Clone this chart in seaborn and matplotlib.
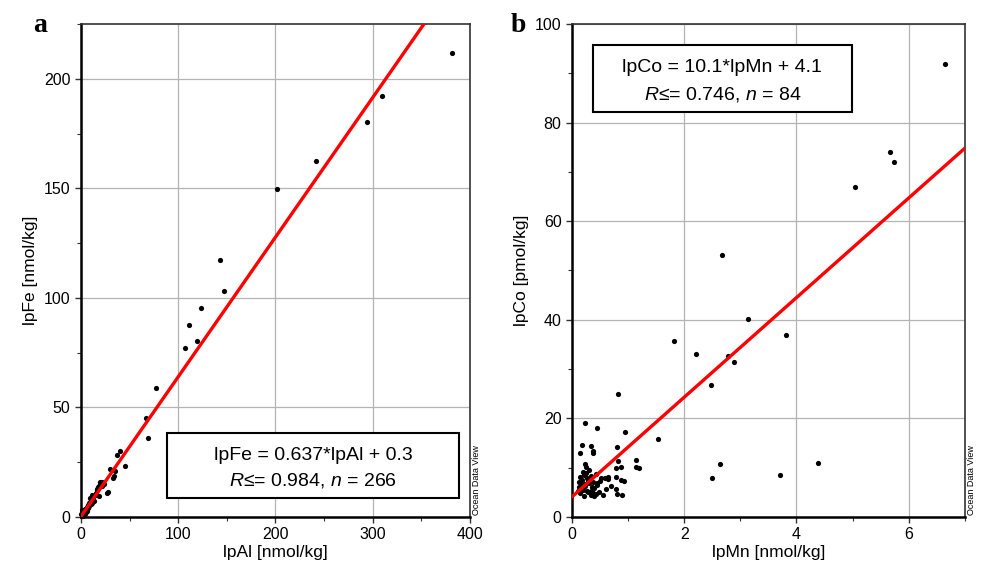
import numpy as np
import pandas as pd
import seaborn as sns
import matplotlib.pyplot as plt
from matplotlib.ticker import MultipleLocator
from matplotlib.patches import Rectangle

# panel a: lpAl vs lpFe
al = [381.5, 309.5, 294, 241.6, 201.5, 143, 147, 111, 123.4, 119.3, 107, 77, 67, 69,
      40, 37.3, 45.2, 29.8, 35, 33.2, 33.6, 26.4, 28, 21.3, 17.8, 19.5, 20, 14.4, 16.1,
      12.7, 11, 7.5, 5, 3.5, 1, 2, 2.5, 1.5, 0.5, 3, 4, 6, 8, 9, 10, 12, 13, 15, 18, 22,
      24, 0.8, 1.2, 2.2, 4.5, 5.5, 7, 9.5, 11.5, 16, 19, 0.3, 1.8, 3.2, 6.5, 8.5, 10.5]
fe = [211.9, 192.2, 180.4, 162.6, 149.8, 117.4, 103.2, 87.7, 95.4, 80.4, 77.2, 58.9, 45.2, 36.1,
      30.3, 28.3, 23.3, 21.8, 21.1, 17.7, 18.5, 11.1, 11.5, 15.8, 13.8, 15, 16, 10, 12.3,
      8, 6.2, 4, 2.5, 1.8, 0.8, 1.5, 2.8, 3, 0.5, 2, 3.5, 4.5, 5, 7, 6, 9, 7.5, 11, 9.5, 14,
      15, 2, 1, 0.6, 1.5, 3.2, 5.5, 8.5, 10, 13, 14, 1.2, 2.2, 3, 2.8, 6.5, 8]

# panel b: lpMn vs lpCo
mn = [6.65, 5.66, 5.73, 5.04, 2.67, 3.13, 1.81, 3.81, 2.21, 2.78, 2.88, 2.47, 0.82, 1.53,
      2.63, 2.49, 3.70, 4.38, 0.23, 0.45, 0.95, 0.18, 0.33, 0.15, 0.38, 0.37, 0.81, 0.23,
      0.25, 0.82, 1.14, 0.88, 0.78, 1.14, 1.2, 0.43, 0.64, 0.52, 0.79, 0.88, 0.93, 0.78,
      0.81, 0.89, 0.6, 0.56, 0.40, 0.14, 0.18, 0.22, 0.26, 0.30, 0.34, 0.38, 0.12, 0.16,
      0.20, 0.24, 0.28, 0.32, 0.36, 0.44, 0.50, 0.15, 0.21, 0.27, 0.33, 0.39, 0.45, 0.13,
      0.19, 0.25, 0.31, 0.37, 0.65, 0.70, 0.17, 0.23, 0.29, 0.35, 0.48, 0.58, 0.10, 0.42]
co = [91.9, 74.0, 72.0, 66.9, 53.1, 40.2, 35.7, 36.9, 33.1, 32.7, 31.4, 26.8, 24.9, 15.8,
      10.8, 8.0, 8.5, 11.0, 19.0, 18.0, 17.2, 14.6, 14.5, 13.0, 13.3, 12.9, 14.2, 10.7,
      10.1, 11.3, 11.5, 10.1, 9.9, 10.1, 9.9, 8.7, 8.2, 7.9, 8.2, 7.6, 7.4, 5.7,
      4.7, 4.5, 5.6, 4.4, 4.3, 8.2, 7.5, 8.6, 7.9, 6.8, 8.4, 7.2, 6.1, 6.6,
      5.4, 6.3, 5.0, 7.8, 6.0, 6.9, 7.3, 4.8, 4.2, 5.2, 4.5, 5.8, 6.4, 7.0,
      9.2, 8.9, 9.6, 4.9, 7.7, 6.2, 5.9, 6.7, 7.4, 5.5, 5.1, 8.0, 5.3, 4.6]

fit_a = (0.637, 0.3)
fit_b = (10.1, 4.1)

sns.set_theme(style="white")
plt.rcParams['font.family'] = ['Liberation Sans', 'DejaVu Sans']
plt.rcParams['text.color'] = 'black'
plt.rcParams['axes.labelcolor'] = 'black'
plt.rcParams['mathtext.fontset'] = 'custom'
plt.rcParams['mathtext.it'] = 'Liberation Sans:italic'
plt.rcParams['mathtext.rm'] = 'Liberation Sans'

fig = plt.figure(figsize=(9.82, 5.63), dpi=100)
ax_a = fig.add_axes([0.0825, 0.0817, 0.396, 0.8757])
ax_b = fig.add_axes([0.5825, 0.0817, 0.400, 0.8757])


def style_axis(ax, xmaj, xmin, ymaj, ymin):
    ax.xaxis.set_major_locator(MultipleLocator(xmaj))
    ax.xaxis.set_minor_locator(MultipleLocator(xmin))
    ax.yaxis.set_major_locator(MultipleLocator(ymaj))
    ax.yaxis.set_minor_locator(MultipleLocator(ymin))
    ax.grid(True, which='major', color='#b4b4b4', linewidth=0.9)
    ax.set_axisbelow(True)
    ax.tick_params(which='both', direction='out', colors='#333333', labelcolor='black',
                   labelsize=11.5, bottom=True, left=True)
    ax.tick_params(which='major', length=4, width=1)
    ax.tick_params(which='minor', length=3, width=0.8)
    for s in ['left', 'bottom']:
        ax.spines[s].set_linewidth(1.8)
        ax.spines[s].set_color('black')
    for s in ['top', 'right']:
        ax.spines[s].set_linewidth(1.2)
        ax.spines[s].set_color('#333333')


def eq_box(ax, x0, y0, x1, y1, line1, line2):
    ax.add_patch(Rectangle((x0, y0), x1 - x0, y1 - y0, transform=ax.transAxes,
                           facecolor='white', edgecolor='black', linewidth=1.5, zorder=5))
    xc = (x0 + x1) / 2
    h = y1 - y0
    ax.text(xc, y0 + h * 0.66, line1, transform=ax.transAxes, ha='center', va='center',
            fontsize=14, zorder=6)
    ax.text(xc, y0 + h * 0.27, line2, transform=ax.transAxes, ha='center', va='center',
            fontsize=14, zorder=6)


# ---- panel a
df_a = pd.DataFrame({'lpAl': al, 'lpFe': fe})
sns.scatterplot(data=df_a, x='lpAl', y='lpFe', ax=ax_a, color='black', s=14,
                linewidth=0, zorder=3, clip_on=False)
xa = np.linspace(0, 400, 50)
sns.lineplot(x=xa, y=fit_a[0] * xa + fit_a[1], ax=ax_a, color='red', linewidth=2.4, zorder=4)
ax_a.set_xlim(0, 400)
ax_a.set_ylim(0, 225)
style_axis(ax_a, 100, 50, 50, 25)
ax_a.set_xlabel('lpAl [nmol/kg]', fontsize=12.5, labelpad=2)
ax_a.set_ylabel('lpFe [nmol/kg]', fontsize=12.5, labelpad=4)
eq_box(ax_a, 0.221, 0.0385, 0.972, 0.170,
       'lpFe = 0.637*lpAl + 0.3', r'$\it{R}$≤= 0.984, $\it{n}$ = 266')
ax_a.text(1.018, 0.005, 'Ocean Data View', transform=ax_a.transAxes, rotation=90,
          fontsize=6.5, ha='center', va='bottom')
fig.text(0.041, 0.955, 'a', fontsize=20, fontweight='bold', family='Liberation Serif',
         ha='center', va='center')

# ---- panel b
df_b = pd.DataFrame({'lpMn': mn, 'lpCo': co})
sns.scatterplot(data=df_b, x='lpMn', y='lpCo', ax=ax_b, color='black', s=14,
                linewidth=0, zorder=3)
xb = np.linspace(0, 7, 50)
sns.lineplot(x=xb, y=fit_b[0] * xb + fit_b[1], ax=ax_b, color='red', linewidth=2.4, zorder=4)
ax_b.set_xlim(0, 7)
ax_b.set_ylim(0, 100)
style_axis(ax_b, 2, 1, 20, 10)
ax_b.set_xlabel('lpMn [nmol/kg]', fontsize=12.5, labelpad=2)
ax_b.set_ylabel('lpCo [pmol/kg]', fontsize=12.5, labelpad=4)
eq_box(ax_b, 0.053, 0.821, 0.712, 0.957,
       'lpCo = 10.1*lpMn + 4.1', r'$\it{R}$≤= 0.746, $\it{n}$ = 84')
ax_b.text(1.018, 0.005, 'Ocean Data View', transform=ax_b.transAxes, rotation=90,
          fontsize=6.5, ha='center', va='bottom')
fig.text(0.528, 0.955, 'b', fontsize=20, fontweight='bold', family='Liberation Serif',
         ha='center', va='center')

fig.savefig('out.png', dpi=100)
